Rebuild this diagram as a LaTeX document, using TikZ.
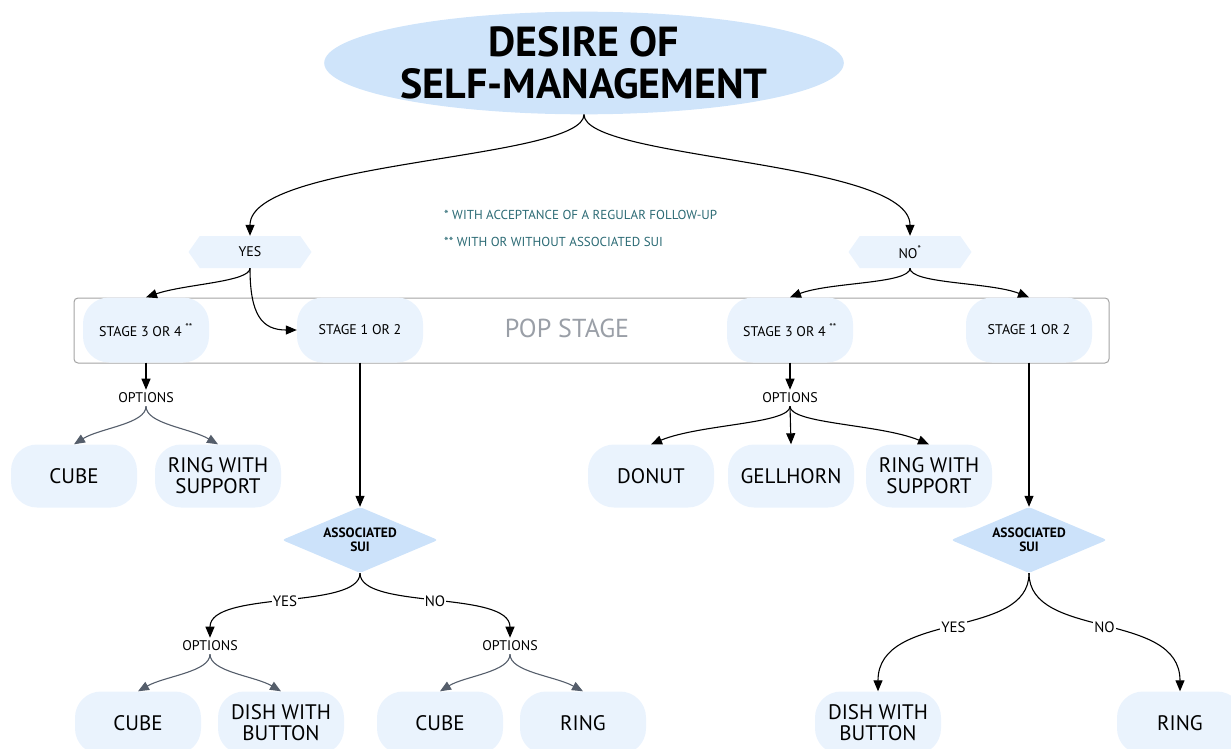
\documentclass[tikz,border=0pt]{standalone}
\usepackage{fontspec}
\setmainfont{PT Sans}
\usetikzlibrary{arrows.meta,shapes.geometric,shapes.symbols}
\definecolor{titlefill}{HTML}{CFE4FA}
\definecolor{diafill}{HTML}{CCE2FA}
\definecolor{nodefill}{HTML}{EAF3FD}
\definecolor{notecol}{HTML}{2B6A74}
\definecolor{popgray}{HTML}{9A9FA7}
\definecolor{boxgray}{HTML}{A3A3A3}
\definecolor{arrgray}{HTML}{555E6B}
\tikzset{
  titlenode/.style={ellipse, fill=titlefill, minimum width=508, minimum height=98, inner sep=0, align=center, font=\fontsize{42}{42}\selectfont\bfseries},
  hexa/.style={signal, signal to=west and east, signal pointer angle=110, fill=nodefill, minimum width=123, minimum height=32, inner sep=2, font=\fontsize{14}{16}\selectfont},
  stagebox/.style={rectangle, rounded corners=26, fill=nodefill, minimum width=126, minimum height=65, inner sep=2, font=\fontsize{14}{16}\selectfont},
  leafbox/.style={rectangle, rounded corners=26, fill=nodefill, minimum width=126, minimum height=63, inner sep=2, align=center, font=\fontsize{21}{21}\selectfont},
  diabox/.style={diamond, aspect=2.36, fill=diafill, minimum width=156, minimum height=66, inner sep=0, align=center, rounded corners=3, font=\fontsize{13.5}{14}\selectfont\bfseries},
  opttext/.style={inner sep=3, font=\fontsize{14}{16}\selectfont},
  lbl/.style={fill=white, inner sep=1, font=\fontsize{15}{16}\selectfont},
  note/.style={anchor=west, inner sep=0, text=notecol, font=\fontsize{13}{15}\selectfont},
  arr/.style={draw=black, line width=1.1, -{Triangle[length=11, width=9]}},
  garr/.style={draw=arrgray, line width=1.1, -{Triangle[length=11, width=9]}},
}
\begin{document}
\begin{tikzpicture}[x=1pt, y=-1pt]
\useasboundingbox (0,0) rectangle (1231,749);
% pop stage box
\node[draw=boxgray, line width=1, rounded corners=4, minimum width=1035, minimum height=65, inner sep=0] (pop) at (591.5,330.5) {};
\node[text=popgray, inner sep=0, font=\fontsize{26}{28}\selectfont] (poplabel) at (567,328) {POP STAGE};
% title and answers
\node[titlenode] (title) at (584,63) {DESIRE OF\\SELF-MANAGEMENT};
\node[hexa] (yes) at (250,252) {YES};
\node[hexa] (no) at (910,252) {NO\textsuperscript{*}};
\node[note] (n1) at (444,215) {* WITH ACCEPTANCE OF A REGULAR FOLLOW-UP};
\node[note] (n2) at (444,242) {** WITH OR WITHOUT ASSOCIATED SUI};
% stages
\node[stagebox] (s34L) at (146,330) {STAGE 3 OR 4 \textsuperscript{**}};
\node[stagebox] (s12L) at (360,330) {STAGE 1 OR 2};
\node[stagebox] (s34R) at (790,330) {STAGE 3 OR 4 \textsuperscript{**}};
\node[stagebox] (s12R) at (1029,330) {STAGE 1 OR 2};
% options
\node[opttext] (optL) at (146,398) {OPTIONS};
\node[opttext] (optR) at (790,398) {OPTIONS};
\node[leafbox] (cubeL) at (74,476) {CUBE};
\node[leafbox] (ringsL) at (218,476) {RING WITH\\SUPPORT};
\node[leafbox] (donut) at (651,476) {DONUT};
\node[leafbox] (gell) at (791,476) {GELLHORN};
\node[leafbox] (ringsR) at (929,476) {RING WITH\\SUPPORT};
% diamonds
\node[diabox] (diaL) at (360,540) {ASSOCIATED\\SUI};
\node[diabox] (diaR) at (1029,540) {ASSOCIATED\\SUI};
\node[opttext] (optBL) at (210,646) {OPTIONS};
\node[opttext] (optBR) at (510,646) {OPTIONS};
\node[leafbox] (cubeBL) at (138,723) {CUBE};
\node[leafbox] (dishBL) at (281,723) {DISH WITH\\BUTTON};
\node[leafbox] (cubeBR) at (440,723) {CUBE};
\node[leafbox] (ringBR) at (583,723) {RING};
\node[leafbox] (dishR) at (878,723) {DISH WITH\\BUTTON};
\node[leafbox] (ringR) at (1180,723) {RING};
% connectors
\draw[arr] (title.south) .. controls (584,160) and (250,160) .. (yes.north);
\draw[arr] (title.south) .. controls (584,160) and (910,160) .. (no.north);
\draw[arr] (yes.south) .. controls (250,282) and (185,284) .. (s34L.north);
\draw[arr] (yes.south) .. controls (250,315) and (262,330) .. (s12L.west);
\draw[arr] (no.south) .. controls (910,284) and (830,282) .. (s34R.north);
\draw[arr] (no.south) .. controls (910,284) and (990,282) .. (s12R.north);
\draw[arr] (s34L.south) -- (optL.north);
\draw[arr] (s34R.south) -- (optR.north);
\draw[garr] (optL.south) .. controls (146,424) and (100,428) .. (cubeL.north);
\draw[garr] (optL.south) .. controls (146,424) and (190,428) .. (ringsL.north);
\draw[arr] (optR.south) .. controls (790,424) and (700,424) .. (donut.north);
\draw[arr] (optR.south) -- (gell.north);
\draw[arr] (optR.south) .. controls (790,424) and (880,424) .. (ringsR.north);
\draw[arr] (s12L.south) -- (diaL.north);
\draw[arr] (s12R.south) -- (diaR.north);
\draw[arr] (diaL.south) .. controls (360,610) and (210,590) .. node[lbl] {YES} (optBL.north);
\draw[arr] (diaL.south) .. controls (360,610) and (510,590) .. node[lbl] {NO} (optBR.north);
\draw[garr] (optBL.south) .. controls (210,672) and (165,676) .. (cubeBL.north);
\draw[garr] (optBL.south) .. controls (210,672) and (255,676) .. (dishBL.north);
\draw[garr] (optBR.south) .. controls (510,672) and (465,676) .. (cubeBR.north);
\draw[garr] (optBR.south) .. controls (510,672) and (555,676) .. (ringBR.north);
\draw[arr] (diaR.south) .. controls (1029,640) and (878,610) .. node[lbl] {YES} (dishR.north);
\draw[arr] (diaR.south) .. controls (1029,640) and (1180,610) .. node[lbl] {NO} (ringR.north);
\end{tikzpicture}
\end{document}
